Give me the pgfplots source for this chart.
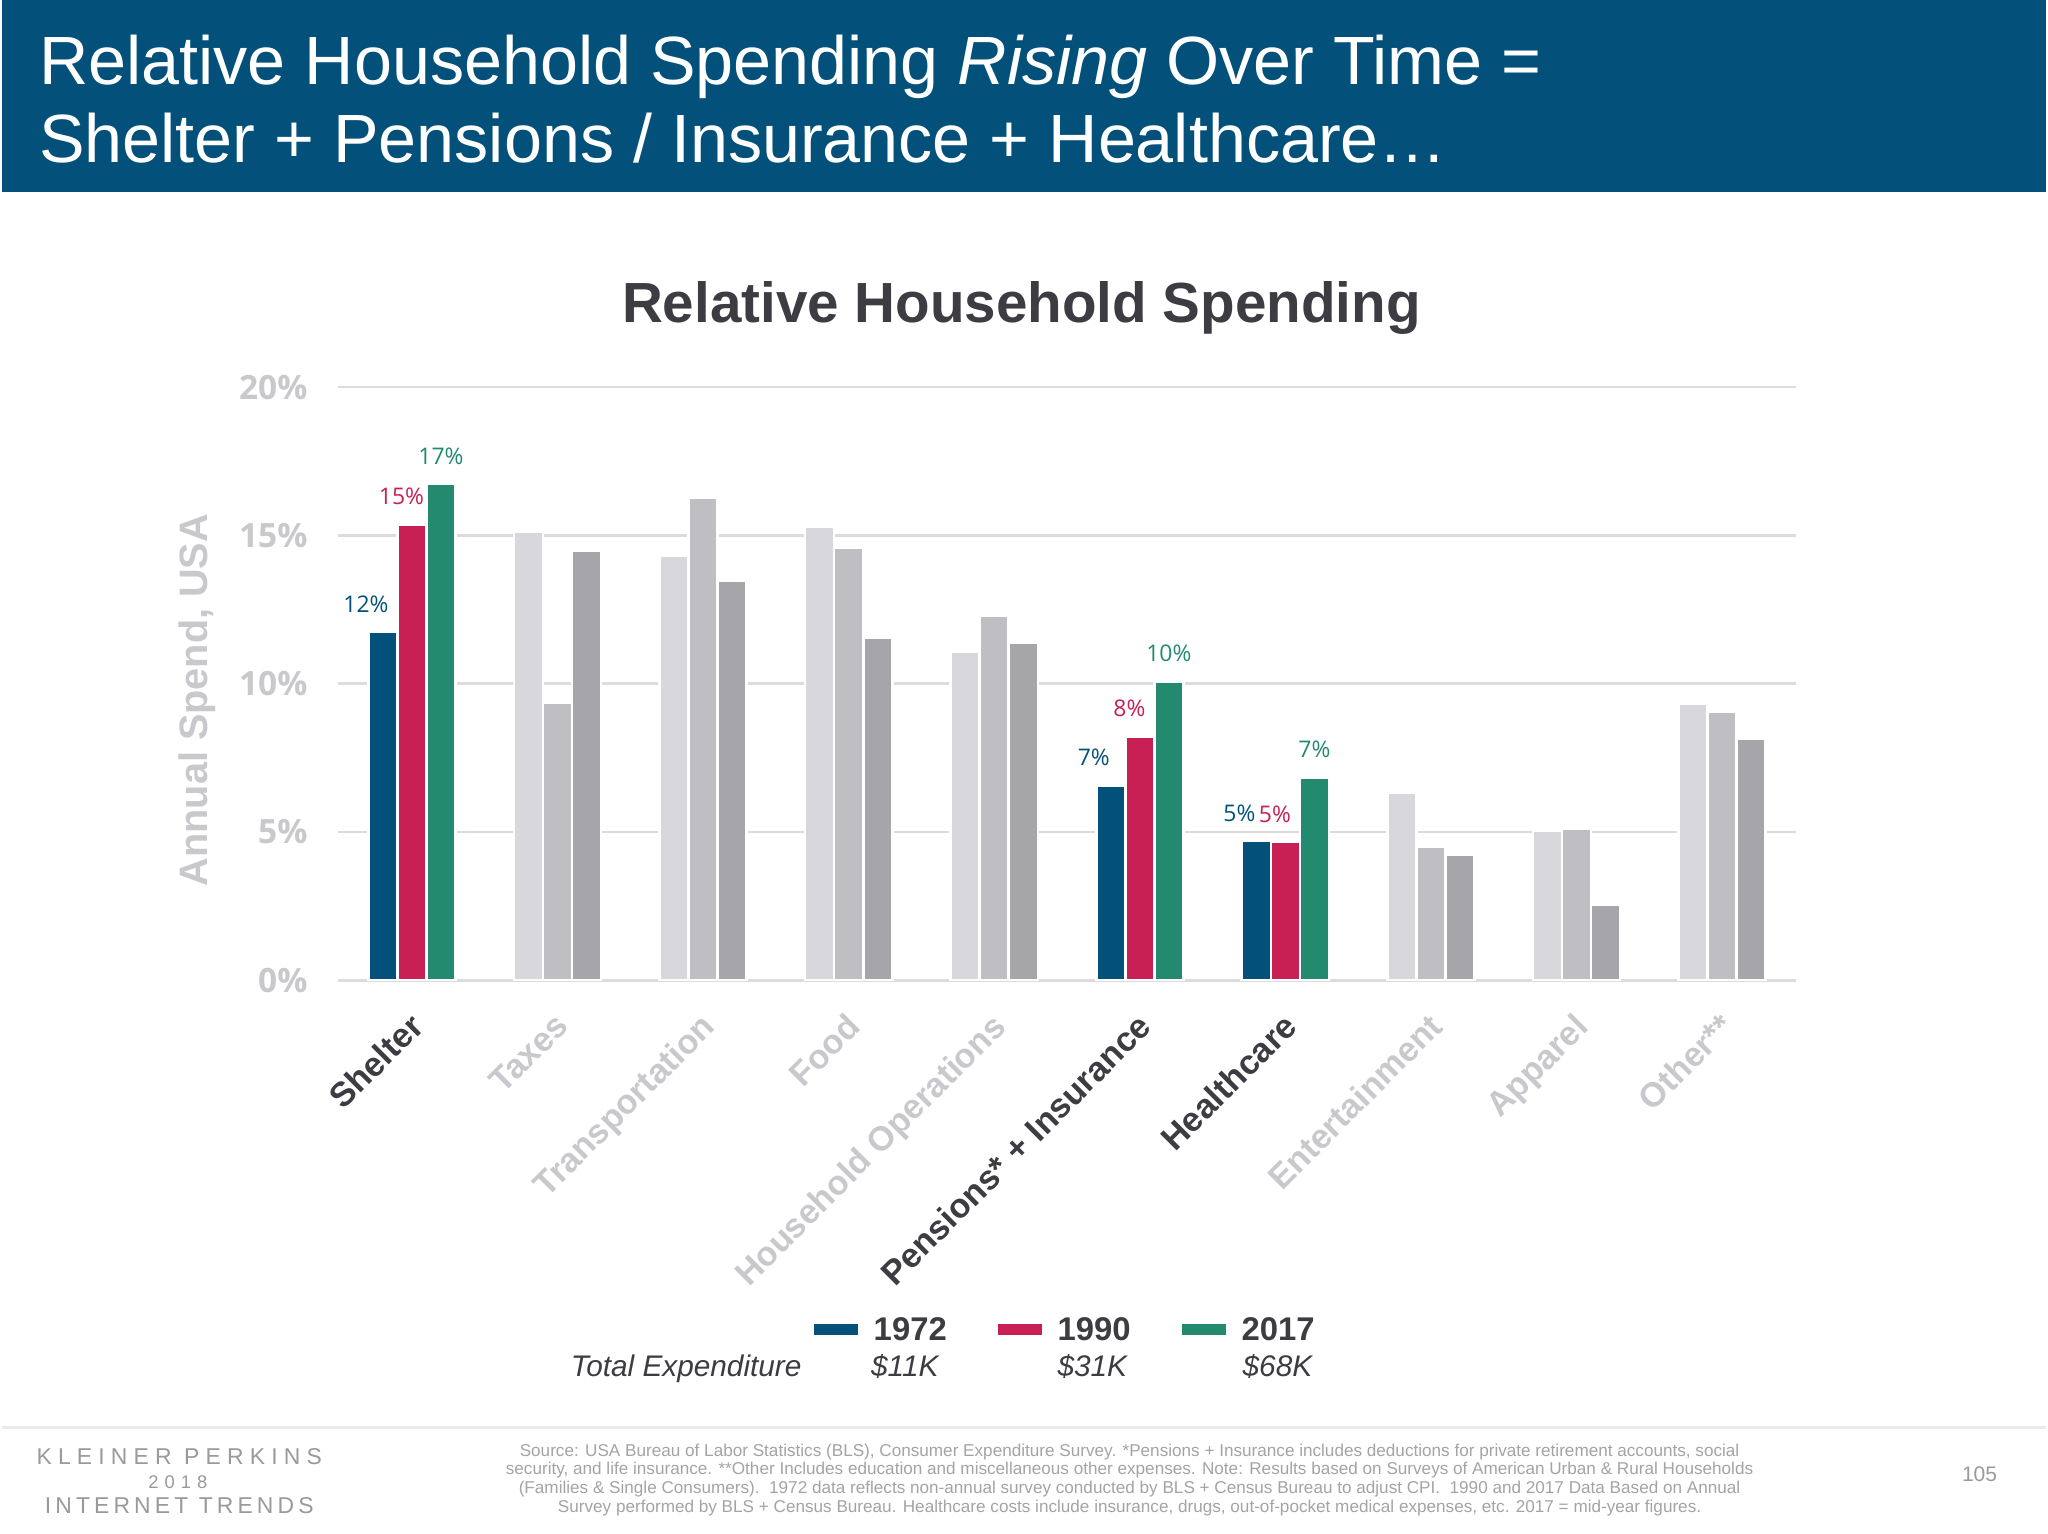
\documentclass[border=0pt]{standalone}
\usepackage{pgfplots}
\pgfplotsset{compat=1.18}
\usepackage{fontspec}
\setmainfont{Liberation Sans}
\newfontfamily\osans{Open Sans}

\definecolor{band}{HTML}{03517A}
\definecolor{c1972}{HTML}{03517A}
\definecolor{c1990}{HTML}{C81F55}
\definecolor{c2017}{HTML}{238A6F}
\definecolor{g1}{HTML}{D8D7DB}
\definecolor{g2}{HTML}{BFBEC2}
\definecolor{g3}{HTML}{A6A5A9}
\definecolor{gridgray}{HTML}{DCDCDF}
\definecolor{darktext}{HTML}{3C3C42}
\definecolor{lighttext}{HTML}{C9C9CD}
\definecolor{foot}{HTML}{A4A4A8}
\definecolor{logo}{HTML}{9A9A9E}

\newcommand{\fs}[1]{\fontsize{#1}{#1}\selectfont}

\begin{document}
\begin{tikzpicture}
% canvas, origin top-left, 1 px of a 1568 wide slide = 0.1mm
\fill[white] (0,0) rectangle (156.8mm,-117.6mm);
\fill[band] (0,0) rectangle (156.8mm,-14.7mm);

\node[anchor=base west, inner sep=0, text=white, font=\fs{14.9pt}] at (2.8mm,-6.5mm)
  {Relative Household Spending \textit{Rising} Over Time =};
\node[anchor=base west, inner sep=0, text=white, font=\fs{14.9pt}] at (2.8mm,-12.5mm)
  {Shelter + Pensions / Insurance + Healthcare\ldots};

\node[anchor=base, inner sep=0, text=darktext, font=\bfseries\fs{12.35pt}] at (78.2mm,-24.75mm)
  {Relative Household Spending};

\begin{axis}[
  at={(25.8mm,-75.2mm)}, anchor=south west,
  width=111.8mm, height=45.5mm, scale only axis,
  xmin=-0.506, xmax=9.506, ymin=0, ymax=20,
  ybar, bar width=2.23mm,
  axis line style={draw=none},
  major tick length=0pt,
  ymajorgrids, grid style={gridgray, line width=0.2mm},
  ytick={0,5,10,15,20},
  yticklabels={0\%,5\%,10\%,15\%,20\%},
  yticklabel style={font=\osans\bfseries\fs{7.3pt}, text=lighttext, inner sep=0pt, xshift=-2.3mm},
  xtick={0,...,9},
  xticklabels={
    {\color{darktext}Shelter},
    {\color{lighttext}Taxes},
    {\color{lighttext}Transportation},
    {\color{lighttext}Food},
    {\color{lighttext}Household Operations},
    {\color{darktext}Pensions* + Insurance},
    {\color{darktext}Healthcare},
    {\color{lighttext}Entertainment},
    {\color{lighttext}Apparel},
    {\color{lighttext}Other**}},
  xticklabel style={xshift=-0.3mm, yshift=-2.3mm, rotate=45, anchor=north east,
    inner sep=0pt, font=\bfseries\fs{7.45pt}},
  ylabel={Annual Spend, USA},
  every axis y label/.style={at={(axis description cs:-0.0966,0.4725)}, rotate=90,
    anchor=center, font=\bfseries\fs{8.65pt}, text=lighttext},
  every axis plot/.append style={draw=white, line width=0.2mm},
  nodes near coords style={font=\osans\fs{5pt}, anchor=south, inner sep=0pt, yshift=1.4mm},
  legend style={draw=none, fill=none, at={(axis description cs:0.3256,-0.5934)}, anchor=west,
    legend columns=3, font=\bfseries\fs{7.17pt}, text=darktext, inner sep=0pt,
    nodes={inner sep=0pt},
    /tikz/every odd column/.append style={column sep=1.2mm},
    /tikz/every even column/.append style={column sep=3.9mm}},
  legend cell align=left,
]
% 1972
\addplot[forget plot, fill=c1972, bar shift=-2.23mm, point meta=explicit symbolic,
  nodes near coords, every node near coord/.append style={text=c1972, xshift=-1.3mm}]
  coordinates {(0,11.74) [12\%] (5,6.56) [7\%] (6,4.70) [5\%]};
\addplot[forget plot, fill=g1, bar shift=-2.23mm]
  coordinates {(1,15.13) (2,14.31) (3,15.29) (4,11.09) (7,6.31) (8,5.03) (9,9.33)};
% 1990
\addplot[forget plot, fill=c1990, bar shift=0mm, point meta=explicit symbolic,
  nodes near coords, every node near coord/.append style={text=c1990, xshift=-0.8mm}]
  coordinates {(0,15.38) [15\%] (5,8.22) [8\%] (6,4.67) [5\%]};
\addplot[forget plot, fill=g2, bar shift=0mm]
  coordinates {(1,9.37) (2,16.29) (3,14.60) (4,12.29) (7,4.50) (8,5.12) (9,9.06)};
% 2017
\addplot[forget plot, fill=c2017, bar shift=2.23mm, point meta=explicit symbolic,
  nodes near coords, every node near coord/.append style={text=c2017}]
  coordinates {(0,16.73) [17\%] (5,10.08) [10\%] (6,6.83) [7\%]};
\addplot[forget plot, fill=g3, bar shift=2.23mm]
  coordinates {(1,14.47) (2,13.48) (3,11.54) (4,11.40) (7,4.25) (8,2.55) (9,8.14)};

\addlegendimage{legend image code/.code={\fill[c1972] (0mm,-0.1mm) rectangle (3.2mm,0.5mm);}}
\addlegendentry{1972}
\addlegendimage{legend image code/.code={\fill[c1990] (0mm,-0.1mm) rectangle (3.2mm,0.5mm);}}
\addlegendentry{1990}
\addlegendimage{legend image code/.code={\fill[c2017] (0mm,-0.1mm) rectangle (3.2mm,0.5mm);}}
\addlegendentry{2017}
\end{axis}

\begin{scope}[every node/.style={inner sep=0, text=darktext, font=\itshape\fs{6.5pt}}]
\node[anchor=base east] at (61.4mm,-105.6mm) {Total Expenditure};
\node[anchor=base west] at (66.6mm,-105.6mm) {\$11K};
\node[anchor=base west] at (80.9mm,-105.6mm) {\$31K};
\node[anchor=base west] at (95.1mm,-105.6mm) {\$68K};
\end{scope}

% footer
\draw[gridgray!60, line width=0.3mm] (0,-109.5mm) -- (156.8mm,-109.5mm);
\node[text=logo, inner sep=0, font=\addfontfeatures{LetterSpace=27}\fs{5.0pt}] at (13.6mm,-111.7mm) {KLEINER PERKINS};
\node[text=logo, inner sep=0, font=\addfontfeatures{LetterSpace=33}\fs{4.0pt}] at (13.5mm,-113.7mm) {2018};
\node[text=logo, inner sep=0, font=\addfontfeatures{LetterSpace=18}\fs{5.0pt}] at (13.6mm,-115.5mm) {INTERNET TRENDS};
\node[text=foot, inner sep=0, align=center, font=\fontsize{3.74pt}{4.07pt}\selectfont] at (86.5mm,-113.5mm)
  {Source: USA Bureau of Labor Statistics (BLS), Consumer Expenditure Survey. *Pensions + Insurance includes deductions for private retirement accounts, social\\
   security, and life insurance. **Other Includes education and miscellaneous other expenses. Note: Results based on Surveys of American Urban \& Rural Households\\
   (Families \& Single Consumers).\ \ 1972 data reflects non-annual survey conducted by BLS + Census Bureau to adjust CPI.\ \ 1990 and 2017 Data Based on Annual\\
   Survey performed by BLS + Census Bureau. Healthcare costs include insurance, drugs, out-of-pocket medical expenses, etc. 2017 = mid-year figures.};
\node[text=logo, inner sep=0, font=\fs{4.6pt}] at (151.7mm,-113.1mm) {105};
\end{tikzpicture}
\end{document}
